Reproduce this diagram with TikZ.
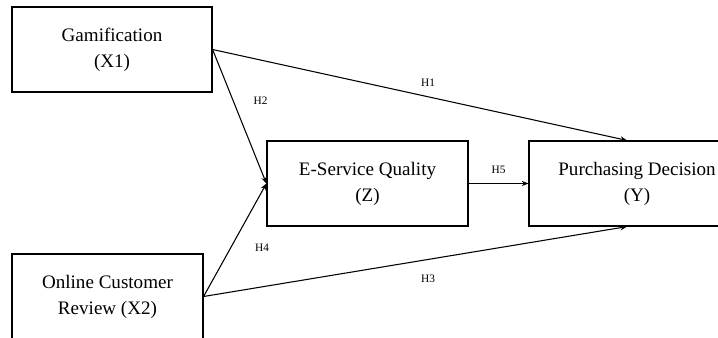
\documentclass[tikz,border=0pt]{standalone}
\usepackage{fontspec}
\setmainfont{Liberation Serif}
\usetikzlibrary{arrows.meta}
\tikzset{
  varbox/.style={draw, line width=0.9pt, minimum height=63.75pt, align=center,
    font=\fontsize{14.3}{19.5}\selectfont},
  hyp/.style={font=\fontsize{8.5}{10}\selectfont, inner sep=1pt},
  link/.style={line width=0.8pt, -{Stealth[length=5pt,width=4pt]}}
}
\begin{document}
\begin{tikzpicture}[x=0.75pt, y=-0.75pt]
    \useasboundingbox (0,0) rectangle (718,337);
    \clip (0,0) rectangle (718,337);

    % variables
    \node [varbox, minimum width=150pt] (gm) at (112,49.5) {Gamification\\(X1)};
    \node [varbox, minimum width=143.25pt] (ocr) at (107.5,296.5) {Online Customer\\Review (X2)};
    \node [varbox, minimum width=150.75pt] (esq) at (367.5,183.5) {E-Service Quality\\(Z)};
    \node [varbox, minimum width=162pt] (pd) at (637,183.5) {Purchasing Decision\\(Y)};

    % hypotheses
    \draw [link] (gm.east) -- ([xshift=-7.5pt]pd.north) node [hyp, pos=0.52, above=6pt] {H1};
    \draw [link] (gm.east) -- (esq.west) node [hyp, pos=0.38, right=14pt] {H2};
    \draw [link] (ocr.east) -- ([xshift=-7.5pt]pd.south) node [hyp, pos=0.53, below=10pt] {H3};
    \draw [link] (ocr.east) -- (esq.west) node [hyp, pos=0.43, right=17pt] {H4};
    \draw [link] (esq.east) -- (pd.west) node [hyp, midway, above=6pt] {H5};

\end{tikzpicture}
\end{document}
